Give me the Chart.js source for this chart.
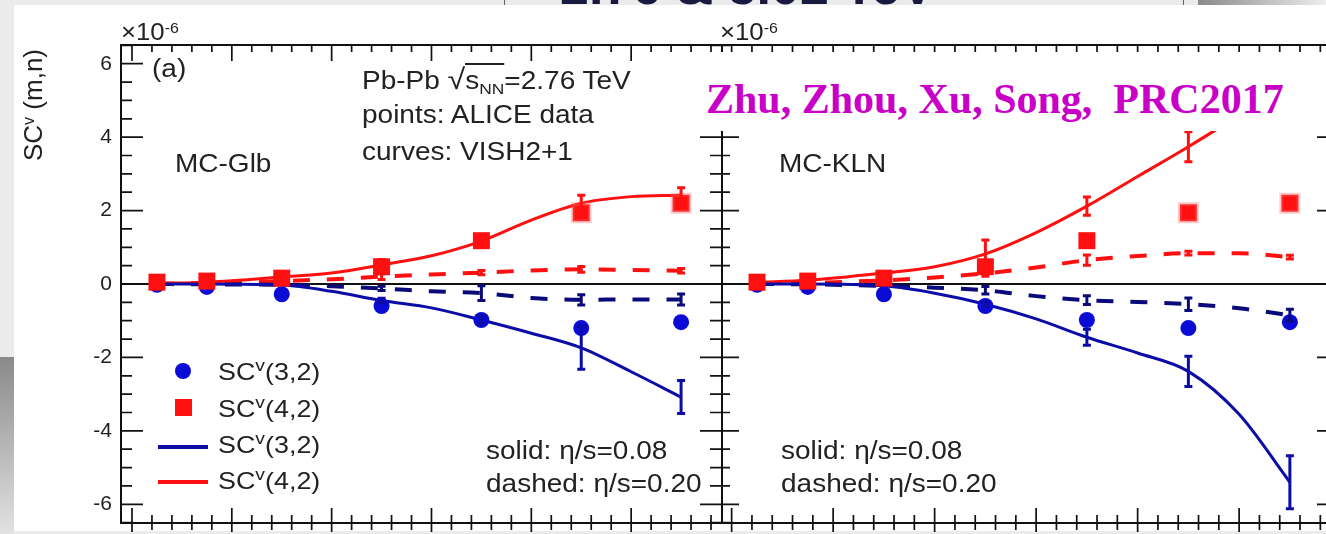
<!DOCTYPE html>
<html>
<head>
<meta charset="utf-8">
<script src="https://cdn.jsdelivr.net/npm/chart.js@4.4.0/dist/chart.umd.min.js"></script>
<style>
html, body { margin: 0; padding: 0; }
body { width: 1326px; height: 534px; overflow: hidden; position: relative; background: #ebebeb;
       font-family: 'Liberation Sans', Arial, sans-serif; color: #222; }
#sheet { position: absolute; left: 14px; top: 5px; width: 1312px; height: 526px; background: #fff; }
canvas { position: absolute; }
.t { position: absolute; font-size: 25px; line-height: 1; white-space: nowrap; transform-origin: 0 0; transform: scaleX(1.12); }
.lg { font-size: 24px; }
.lg sup { font-size: .72em; }
.mk { position: absolute; }
sup { font-size: .62em; position: relative; top: -.5em; vertical-align: baseline; line-height: 0; }
sub { font-size: .62em; position: relative; top: .3em; vertical-align: baseline; line-height: 0; }
.ol { border-top: 2px solid #222; padding-top: 1px; }
.rad { font-size: 1.15em; }
#ytitle { position: absolute; left: -37px; top: 91px; width: 140px; height: 28px; line-height: 28px; text-align: center;
          font-size: 26px; white-space: nowrap; transform: rotate(-90deg); }
#citebox { position: absolute; left: 692px; top: 52px; width: 640px; height: 79px; background: #fff; }
#cite { position: absolute; left: 706px; top: 78px; font: bold 42px 'Liberation Serif', 'Times New Roman', serif;
        line-height: 1; color: #c800c8; white-space: nowrap; }
#toptitle { position: absolute; left: 560px; top: -40px; font: bold 52px 'Liberation Sans', Arial, sans-serif;
            line-height: 1; color: #1a1a40; white-space: nowrap; }
#topbox { position: absolute; left: 504px; top: -40px; width: 678px; height: 44px; border: 1px solid #666; }
#topgrad { position: absolute; left: 1198px; top: 0; width: 128px; height: 5px; background: linear-gradient(to right, #8a8a8a, #eeeeee); }
#leftgrad { position: absolute; left: 0; top: 357px; width: 14px; height: 177px; background: linear-gradient(#8a8a8a, #e2e2e2); }
</style>
</head>
<body>
<div id="toptitle">2.76 &amp; 5.02 TeV</div>
<div id="topbox"></div>
<div id="topgrad"></div>
<div id="leftgrad"></div>
<div id="sheet"></div>

<canvas id="glb" width="740" height="570" style="left:0;top:0"></canvas>
<canvas id="kln" width="640" height="570" style="left:712px;top:0"></canvas>

<div id="ytitle">SC<sup>v</sup> (m,n)</div>
<div class="t" style="left:121px;top:21px;font-size:23px">×10<sup>-6</sup></div>
<div class="t" style="left:720px;top:21px;font-size:23px">×10<sup>-6</sup></div>

<div class="t" style="left:152px;top:56px">(a)</div>
<div class="t" style="left:175px;top:151px">MC-Glb</div>
<div class="t" style="left:362px;top:65px">Pb-Pb <span class="rad">√</span><span class="ol">s<sub>NN</sub></span>=2.76 TeV</div>
<div class="t" style="left:362px;top:102px">points: ALICE data</div>
<div class="t" style="left:362px;top:139px">curves: VISH2+1</div>
<div class="t" style="left:486px;top:438px">solid: η/s=0.08</div>
<div class="t" style="left:486px;top:471px">dashed: η/s=0.20</div>

<div class="t" style="left:779px;top:151px">MC-KLN</div>
<div class="t" style="left:781px;top:438px">solid: η/s=0.08</div>
<div class="t" style="left:781px;top:471px">dashed: η/s=0.20</div>

<div class="mk" style="left:175px;top:363px;width:16px;height:16px;border-radius:50%;background:#0b0bd6"></div>
<div class="mk" style="left:175px;top:399px;width:17px;height:17px;background:#ff1010"></div>
<div class="mk" style="left:158px;top:445px;width:50px;height:3.5px;background:#0c0ca6"></div>
<div class="mk" style="left:158px;top:480px;width:50px;height:3.5px;background:#ff1010"></div>
<div class="t lg" style="left:218px;top:360px">SC<sup>v</sup>(3,2)</div>
<div class="t lg" style="left:218px;top:397px">SC<sup>v</sup>(4,2)</div>
<div class="t lg" style="left:218px;top:433px">SC<sup>v</sup>(3,2)</div>
<div class="t lg" style="left:218px;top:469px">SC<sup>v</sup>(4,2)</div>

<div id="citebox"></div>
<div id="cite">Zhu, Zhou, Xu, Song,&nbsp; PRC2017</div>

<script>
// ALICE data points (same in both panels)
const centrality = [2.5, 7.5, 15, 25, 35, 45, 55];
const aliceSC32 = [-0.02, -0.08, -0.28, -0.6, -0.98, -1.2, -1.04];
const aliceSC42 = [0.05, 0.08, 0.16, 0.47, 1.18, 1.94, 2.2];

// VISH2+1 curves, read at these centralities
const curveX = [2.5, 7.5, 15, 20, 25, 30, 35, 40, 45, 50, 55];

// MC-Glb
const glbSC32Solid = [0, 0, -0.03, -0.2, -0.45, -0.65, -0.98, -1.34, -1.74, -2.39, -3.08];
const glbSC42Solid = [0.02, 0.05, 0.19, 0.3, 0.52, 0.77, 1.17, 1.74, 2.2, 2.38, 2.42];
const glbSC32Dash = [0, -0.01, -0.02, -0.06, -0.12, -0.2, -0.25, -0.38, -0.43, -0.42, -0.42];
const glbSC42Dash = [0.01, 0.03, 0.08, 0.13, 0.2, 0.26, 0.31, 0.37, 0.4, 0.38, 0.36];
const glbSC32SolidErr = [0, 0, 0, 0, 0.06, 0, 0.1, 0, 0.58, 0, 0.45];
const glbSC42SolidErr = [0, 0, 0, 0, 0.15, 0, 0.08, 0, 0.22, 0, 0.2];
const glbSC32DashErr = [0, 0, 0, 0, 0.06, 0, 0.2, 0, 0.14, 0, 0.15];
const glbSC42DashErr = [0, 0, 0, 0, 0.08, 0, 0.06, 0, 0.08, 0, 0.06];

// MC-KLN
const klnSC32Solid = [0, 0, -0.05, -0.25, -0.55, -0.95, -1.45, -1.88, -2.38, -3.55, -5.4];
const klnSC42Solid = [0.05, 0.1, 0.3, 0.47, 0.82, 1.4, 2.12, 2.93, 3.74, 4.6, 5.5];
const klnSC32Dash = [0, -0.01, -0.05, -0.1, -0.17, -0.33, -0.44, -0.49, -0.55, -0.66, -0.85];
const klnSC42Dash = [0.01, 0.03, 0.1, 0.18, 0.29, 0.45, 0.65, 0.76, 0.84, 0.84, 0.73];
const klnSC32SolidErr = [0, 0, 0, 0, 0.06, 0, 0.22, 0, 0.41, 0, 0.72];
const klnSC42SolidErr = [0, 0, 0, 0, 0.38, 0, 0.25, 0, 0.41, 0, 0];
const klnSC32DashErr = [0, 0, 0, 0, 0.1, 0, 0.12, 0, 0.17, 0, 0.16];
const klnSC42DashErr = [0, 0, 0, 0, 0.08, 0, 0.14, 0, 0.05, 0, 0.05];

const yTicks = [-6, -4, -2, 0, 2, 4, 6];

const BLUE_PT = '#0b0bd6';
const BLUE_SOLID = '#0c0ca6';
const BLUE_DASH = '#0a0a7a';
const RED = '#ff1010';

function pts(xs, ys) {
    return xs.map((x, i) => ({ x: x, y: ys[i] }));
}

const framePlugin = {
    id: 'frame',
    beforeDatasetsDraw(chart) {
        const { ctx, chartArea: a } = chart;
        const y0 = chart.scales.y.getPixelForValue(0);
        ctx.save();
        ctx.strokeStyle = '#111';
        ctx.lineWidth = 2;
        ctx.beginPath();
        ctx.moveTo(a.left, y0);
        ctx.lineTo(a.right, y0);
        ctx.stroke();
        ctx.restore();
    },
    afterDatasetsDraw(chart) {
        const { ctx, chartArea: a } = chart;
        const ys = chart.scales.y;
        ctx.save();
        ctx.beginPath();
        ctx.rect(a.left, a.top, a.width, a.height);
        ctx.clip();
        chart.data.datasets.forEach((ds, i) => {
            if (!ds.errY) return;
            const meta = chart.getDatasetMeta(i);
            ctx.strokeStyle = ds.borderColor;
            ctx.lineWidth = 3;
            meta.data.forEach((pt, j) => {
                const e = ds.errY[j];
                if (!e) return;
                const v = ds.data[j].y;
                const top = ys.getPixelForValue(v + e);
                const bot = ys.getPixelForValue(v - e);
                ctx.beginPath();
                ctx.moveTo(pt.x, top); ctx.lineTo(pt.x, bot);
                ctx.moveTo(pt.x - 4, top); ctx.lineTo(pt.x + 4, top);
                ctx.moveTo(pt.x - 4, bot); ctx.lineTo(pt.x + 4, bot);
                ctx.stroke();
            });
        });
        ctx.restore();
    },
    afterDraw(chart, args, o) {
        const { ctx, chartArea: a, scales: { x, y } } = chart;
        ctx.save();
        ctx.strokeStyle = '#111';
        ctx.lineWidth = 2;
        ctx.strokeRect(a.left, a.top, a.width, a.height);
        ctx.lineWidth = 1.7;
        ctx.beginPath();
        for (let k = -13; k <= 13; k++) {
            const v = k / 2;
            if (v < y.min || v > y.max) continue;
            const py = y.getPixelForValue(v);
            const major = k % 4 === 0;
            ctx.moveTo(a.left, py); ctx.lineTo(a.left + (major ? o.leftMajor : o.leftMinor), py);
            ctx.moveTo(a.right, py); ctx.lineTo(a.right - (major ? o.rightMajor : o.rightMinor), py);
        }
        for (let v = 0; v <= x.max; v += 2) {
            const px = x.getPixelForValue(v);
            const major = v % 10 === 0;
            ctx.moveTo(px, a.top); ctx.lineTo(px, a.top + (major ? 16 : 7));
            ctx.moveTo(px, a.bottom - (major ? 15 : 8)); ctx.lineTo(px, a.bottom + (major ? 9 : 7));
        }
        ctx.stroke();
        ctx.restore();
    }
};

function makeDatasets(sc32Solid, sc42Solid, sc32Dash, sc42Dash, errs) {
    return [
        {
            label: 'SCv(4,2) ALICE', type: 'scatter', data: pts(centrality, aliceSC42),
            pointStyle: 'rect', pointRadius: 12, backgroundColor: RED,
            borderColor: 'rgba(255,100,100,0.35)',
            borderWidth: ctx => (ctx.dataIndex >= 5 ? 4 : 0)
        },
        {
            label: 'SCv(3,2) ALICE', type: 'scatter', data: pts(centrality, aliceSC32),
            pointStyle: 'circle', pointRadius: 8, backgroundColor: BLUE_PT, borderWidth: 0
        },
        {
            label: 'SCv(3,2) 0.08', data: pts(curveX, sc32Solid), errY: errs[0],
            borderColor: BLUE_SOLID, borderWidth: 3, pointRadius: 0, cubicInterpolationMode: 'monotone'
        },
        {
            label: 'SCv(4,2) 0.08', data: pts(curveX, sc42Solid), errY: errs[1],
            borderColor: RED, borderWidth: 3, pointRadius: 0, cubicInterpolationMode: 'monotone'
        },
        {
            label: 'SCv(3,2) 0.20', data: pts(curveX, sc32Dash), errY: errs[2],
            borderColor: BLUE_DASH, borderWidth: 4, borderDash: [17, 17], pointRadius: 0, cubicInterpolationMode: 'monotone'
        },
        {
            label: 'SCv(4,2) 0.20', data: pts(curveX, sc42Dash), errY: errs[3],
            borderColor: RED, borderWidth: 4, borderDash: [17, 17], pointRadius: 0, cubicInterpolationMode: 'monotone'
        }
    ];
}

function makeOptions(xMin, xMax, showY, padding, ticks) {
    return {
        responsive: false,
        animation: false,
        layout: { padding: padding, autoPadding: false },
        plugins: { legend: { display: false }, tooltip: { enabled: false }, frame: ticks },
        scales: {
            x: { type: 'linear', min: xMin, max: xMax, display: false },
            y: {
                type: 'linear', min: -6.51, max: 6.51, display: showY,
                grid: { display: false, drawTicks: false },
                border: { display: false },
                afterBuildTicks: s => { s.ticks = yTicks.map(v => ({ value: v })); },
                ticks: { color: '#1e1e1e', padding: 9, font: { family: 'Liberation Sans', size: 21 } },
                afterFit: s => { s.width = showY ? 121 : 0; }
            }
        }
    };
}

new Chart(document.getElementById('glb').getContext('2d'), {
    type: 'line',
    data: {
        datasets: makeDatasets(glbSC32Solid, glbSC42Solid, glbSC32Dash, glbSC42Dash,
            [glbSC32SolidErr, glbSC42SolidErr, glbSC32DashErr, glbSC42DashErr])
    },
    options: makeOptions(-1.1, 59.1, true, { left: 0, right: 18, top: 45, bottom: 47 },
        { leftMajor: 22, leftMinor: 11, rightMajor: 22, rightMinor: 12 }),
    plugins: [framePlugin]
});

new Chart(document.getElementById('kln').getContext('2d'), {
    type: 'line',
    data: {
        datasets: makeDatasets(klnSC32Solid, klnSC42Solid, klnSC32Dash, klnSC42Dash,
            [klnSC32SolidErr, klnSC42SolidErr, klnSC32DashErr, klnSC42DashErr])
    },
    options: makeOptions(-0.95, 59.84, false, { left: 10, right: 13, top: 45, bottom: 47 },
        { leftMajor: 17, leftMinor: 8, rightMajor: 22, rightMinor: 11 }),
    plugins: [framePlugin]
});
</script>
</body>
</html>
